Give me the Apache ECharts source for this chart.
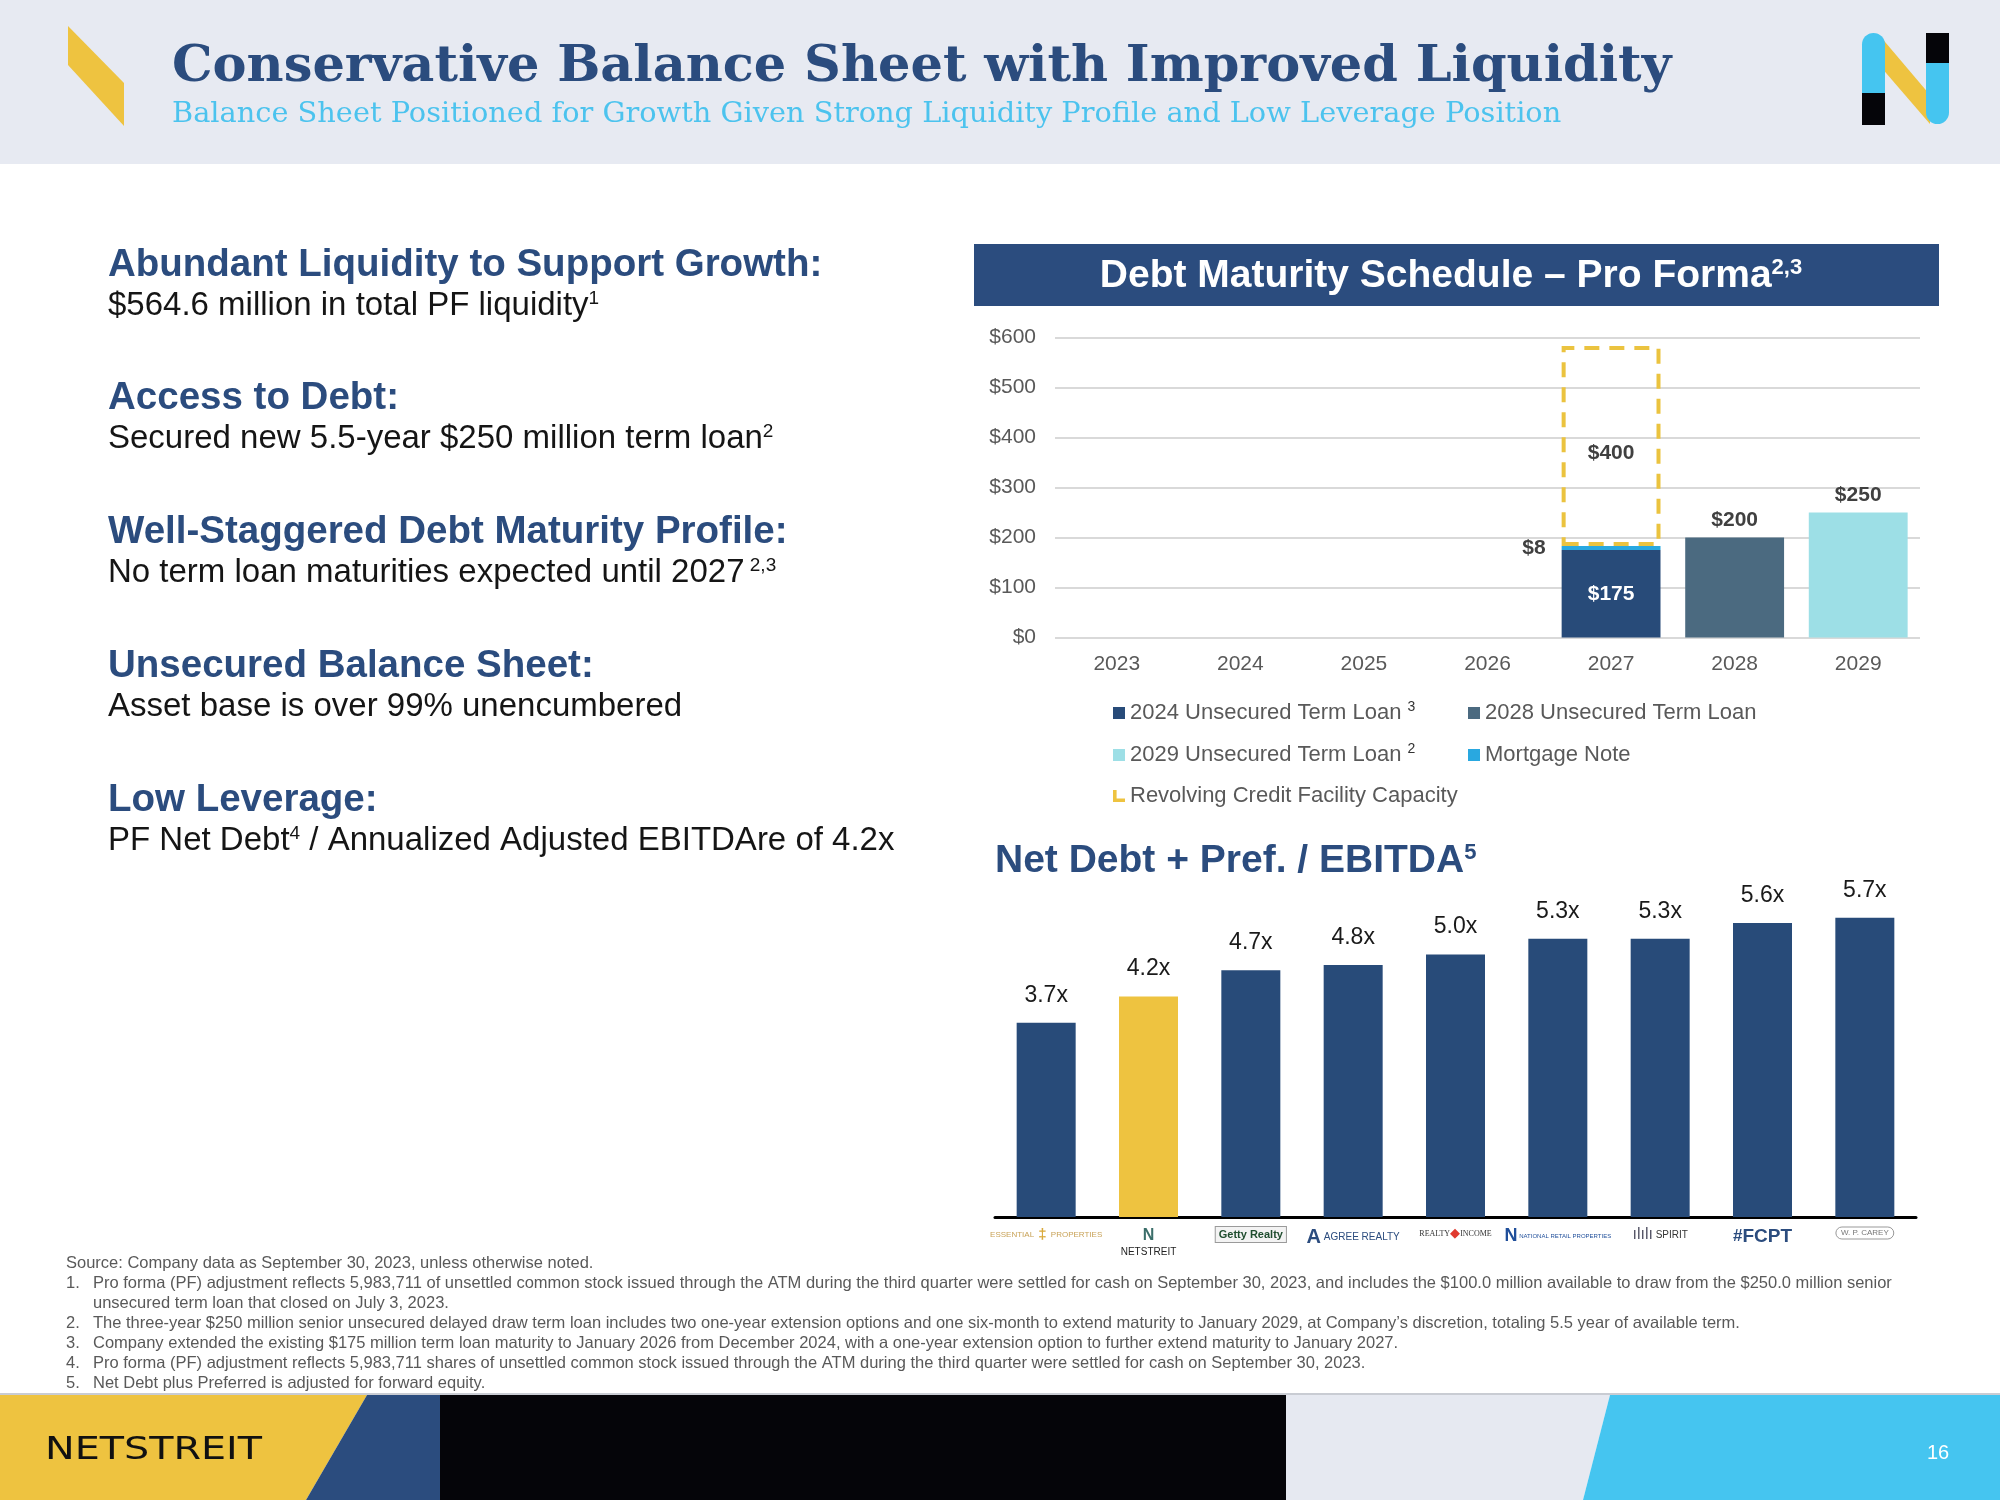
<!DOCTYPE html>
<html>
<head>
<meta charset="utf-8">
<script src="https://cdn.jsdelivr.net/npm/echarts@6/dist/echarts.min.js"></script>
<style>
html,body{margin:0;padding:0;background:#fff;}
#c{width:2000px;height:1500px;}
</style>
</head>
<body>
<div id="c"></div>
<script>
// ---------- DATA ----------
const years = ['2023', '2024', '2025', '2026', '2027', '2028', '2029'];
const loan2024 = [null, null, null, null, 175, null, null];
const mortgageNote = [null, null, null, null, 8, null, null];
const revolverCapacity = [null, null, null, null, 400, null, null];
const loan2028 = [null, null, null, null, null, 200, null];
const loan2029 = [null, null, null, null, null, null, 250];
const debtTicks = [0, 100, 200, 300, 400, 500, 600];

const peers = ['Essential Properties', 'NETSTREIT', 'Getty Realty', 'Agree Realty', 'Realty Income',
  'National Retail Properties', 'Spirit Realty', 'FCPT', 'W. P. Carey'];
const leverage = [3.7, 4.2, 4.7, 4.8, 5.0, 5.3, 5.3, 5.6, 5.7];

const footnotes = [
  ['', 'Source: Company data as September 30, 2023, unless otherwise noted.'],
  ['1.', 'Pro forma (PF) adjustment reflects 5,983,711 of unsettled common stock issued through the ATM during the third quarter were settled for cash on September 30, 2023, and includes the $100.0 million available to draw from the $250.0 million senior'],
  ['', 'unsecured term loan that closed on July 3, 2023.'],
  ['2.', 'The three-year $250 million senior unsecured delayed draw term loan includes two one-year extension options and one six-month to extend maturity to January 2029, at Company\u2019s discretion, totaling 5.5 year of available term.'],
  ['3.', 'Company extended the existing $175 million term loan maturity to January 2026 from December 2024, with a one-year extension option to further extend maturity to January 2027.'],
  ['4.', 'Pro forma (PF) adjustment reflects 5,983,711 shares of unsettled common stock issued through the ATM during the third quarter were settled for cash on September 30, 2023.'],
  ['5.', 'Net Debt plus Preferred is adjusted for forward equity.']
];

const highlights = [
  ['Abundant Liquidity to Support Growth:', '$564.6 million in total PF liquidity{sup|1}'],
  ['Access to Debt:', 'Secured new 5.5-year $250 million term loan{sup|2}'],
  ['Well-Staggered Debt Maturity Profile:', 'No term loan maturities expected until 2027{sup| 2,3}'],
  ['Unsecured Balance Sheet:', 'Asset base is over 99% unencumbered'],
  ['Low Leverage:', 'PF Net Debt{sup|4} / Annualized Adjusted EBITDAre of 4.2x']
];

// ---------- STYLE ----------
const NAVY = '#284B79';
const YELLOW = '#EEC340';
const SANS = '"Liberation Sans", Arial, sans-serif';

const chart = echarts.init(document.getElementById('c'));

const graphic = [];
// header band
graphic.push({type: 'rect', shape: {x: 0, y: 0, width: 2000, height: 164}, style: {fill: '#E7EAF2'}});
graphic.push({type: 'polygon', shape: {points: [[68, 26], [124, 83], [124, 126], [68, 65]]}, style: {fill: YELLOW}});
// N logo
graphic.push({type: 'polygon', shape: {points: [[1880, 36], [1930, 95], [1930, 124], [1880, 66]]}, style: {fill: YELLOW}});
graphic.push({type: 'rect', shape: {x: 1862, y: 33, width: 23, height: 60, r: [11.5, 11.5, 0, 0]}, style: {fill: '#45C5F0'}});
graphic.push({type: 'rect', shape: {x: 1862, y: 93, width: 23, height: 32}, style: {fill: '#050509'}});
graphic.push({type: 'rect', shape: {x: 1926, y: 33, width: 23, height: 30}, style: {fill: '#050509'}});
graphic.push({type: 'rect', shape: {x: 1926, y: 63, width: 23, height: 61, r: [0, 0, 11.5, 11.5]}, style: {fill: '#45C5F0'}});
// titles
graphic.push({type: 'text', x: 172, y: 68, style: {text: 'Conservative Balance Sheet with Improved Liquidity',
  font: 'bold 51px "DejaVu Serif", serif', fill: '#2B4C7E', verticalAlign: 'middle'}});
graphic.push({type: 'text', x: 172, y: 115, style: {text: 'Balance Sheet Positioned for Growth Given Strong Liquidity Profile and Low Leverage Position',
  font: '28.8px "DejaVu Serif", serif', fill: '#4CC3EE', verticalAlign: 'middle'}});

// left highlights
const headY = [265, 398, 532, 666, 800];
highlights.forEach((h, i) => {
  graphic.push({type: 'text', x: 108, y: headY[i], style: {text: h[0], font: 'bold 38.5px ' + SANS, fill: '#2B4C7E', verticalAlign: 'middle'}});
  graphic.push({type: 'text', x: 108, y: headY[i] + 41, style: {text: h[1], font: '33px ' + SANS, fill: '#151515', verticalAlign: 'middle',
    rich: {sup: {font: '19px ' + SANS, verticalAlign: 'top', fill: '#151515'}}}});
});

// chart 1 title bar
graphic.push({type: 'rect', shape: {x: 974, y: 244, width: 965, height: 62}, style: {fill: '#2B4C7E'}});
graphic.push({type: 'text', x: 1451, y: 276, style: {text: 'Debt Maturity Schedule \u2013 Pro Forma{sup|2,3}',
  font: 'bold 39px ' + SANS, fill: '#fff', align: 'center', verticalAlign: 'middle',
  rich: {sup: {font: 'bold 22px ' + SANS, verticalAlign: 'top', fill: '#fff'}}}});
// chart 2 title
graphic.push({type: 'text', x: 995, y: 861, style: {text: 'Net Debt + Pref. / EBITDA{sup|5}',
  font: 'bold 39px ' + SANS, fill: '#2B4C7E', verticalAlign: 'middle',
  rich: {sup: {font: 'bold 22px ' + SANS, verticalAlign: 'top', fill: '#2B4C7E'}}}});

// footnotes
footnotes.forEach((f, i) => {
  const y = 1263 + i * 20;
  if (f[0]) graphic.push({type: 'text', x: 66, y: y, style: {text: f[0], font: '16.5px ' + SANS, fill: '#595959', verticalAlign: 'middle'}});
  graphic.push({type: 'text', x: f[0] || i === 2 ? 93 : 66, y: y, style: {text: f[1], font: '16.5px ' + SANS, fill: '#595959', verticalAlign: 'middle'}});
});

// footer
graphic.push({type: 'rect', shape: {x: 0, y: 1393, width: 2000, height: 2}, style: {fill: '#C9CCD3'}});
graphic.push({type: 'polygon', shape: {points: [[0, 1395], [367, 1395], [306, 1500], [0, 1500]]}, style: {fill: YELLOW}});
graphic.push({type: 'polygon', shape: {points: [[367, 1395], [440, 1395], [440, 1500], [306, 1500]]}, style: {fill: '#2B4C7E'}});
graphic.push({type: 'rect', shape: {x: 440, y: 1395, width: 846, height: 105}, style: {fill: '#050509'}});
graphic.push({type: 'polygon', shape: {points: [[1286, 1395], [1610, 1395], [1583, 1500], [1286, 1500]]}, style: {fill: '#E6E9F1'}});
graphic.push({type: 'polygon', shape: {points: [[1610, 1395], [2000, 1395], [2000, 1500], [1583, 1500]]}, style: {fill: '#45C5F0'}});
graphic.push({type: 'text', x: 45, y: 1451, scaleX: 1.24, style: {text: 'NETSTREIT', font: '32px "DejaVu Sans", sans-serif', fill: '#111', verticalAlign: 'middle'}});
graphic.push({type: 'text', x: 1938, y: 1453, style: {text: '16', font: '20px ' + SANS, fill: '#fff', align: 'center', verticalAlign: 'middle'}});

// peer logo text styles
const logoText = {
  'Essential Properties': '{ess|ESSENTIAL}{essi| \u2021 }{ess|PROPERTIES}',
  'NETSTREIT': '{nl|N}\n{nt|NETSTREIT}',
  'Getty Realty': '{getty|Getty Realty}',
  'Agree Realty': '{ar|A}{ag| AGREE REALTY}',
  'Realty Income': '{ri|REALTY}{rd|\u25C6}{ri|INCOME}',
  'National Retail Properties': '{nn|N}{nr| NATIONAL RETAIL PROPERTIES}',
  'Spirit Realty': '{spi|\u0131l\u0131l\u0131}{sp| SPIRIT}',
  'FCPT': '{fcs|#}{fc|FCPT}',
  'W. P. Carey': '{wp|W. P. CAREY}'
};

const legendBase = {
  itemWidth: 12, itemHeight: 12, padding: 0, itemGap: 10,
  textStyle: {fontSize: 22, color: '#595959', fontFamily: 'Liberation Sans', lineHeight: 26,
    rich: {sup: {fontSize: 14, color: '#333', verticalAlign: 'top', lineHeight: 26}}},
  selectedMode: false
};
function legendAt(name, left, top, extra) {
  return Object.assign({}, legendBase, {left: left, top: top, data: [Object.assign({name: name, icon: 'rect'}, extra || {})],
    formatter: function (n) {
      if (n === '2024 Unsecured Term Loan') return n + ' {sup|3}';
      if (n === '2029 Unsecured Term Loan') return n + ' {sup|2}';
      return n;
    }});
}

const debtLabel = {show: true, fontWeight: 'bold', fontSize: 21, color: '#404040', fontFamily: 'Liberation Sans',
  formatter: p => '$' + p.value};

const option = {
  animation: false,
  backgroundColor: '#fff',
  graphic: graphic,
  legend: [
    legendAt('2024 Unsecured Term Loan', 1113, 700),
    legendAt('2028 Unsecured Term Loan', 1468, 700),
    legendAt('2029 Unsecured Term Loan', 1113, 742),
    legendAt('Mortgage Note', 1468, 742),
    legendAt('Revolving Credit Facility Capacity', 1113, 783,
      {icon: 'path://M0,0 L3,0 L3,7 L10,7 L10,10 L0,10 Z', itemStyle: {color: YELLOW, borderWidth: 0}})
  ],
  grid: [
    {left: 1055, right: 80, top: 337.5, bottom: 862.5},
    {left: 995, right: 84, top: 902, bottom: 283}
  ],
  xAxis: [
    {gridIndex: 0, type: 'category', data: years, axisLine: {show: false}, axisTick: {show: false},
      axisLabel: {color: '#595959', fontSize: 21, margin: 16, fontFamily: 'Liberation Sans'}},
    {gridIndex: 1, type: 'category', data: peers, axisLine: {lineStyle: {color: '#000', width: 3}}, axisTick: {show: false},
      axisLabel: {interval: 0, margin: 10, formatter: v => logoText[v] || v,
        rich: {
          ess: {color: '#C8A257', fontSize: 8, fontFamily: 'Liberation Sans'},
          essi: {color: '#D9A93B', fontSize: 15, fontWeight: 'bold'},
          nl: {color: '#3B6E6A', fontSize: 16, fontWeight: 'bold', lineHeight: 18},
          nt: {color: '#222', fontSize: 10, lineHeight: 14},
          getty: {color: '#1F4D2E', fontSize: 11, fontWeight: 'bold', borderColor: '#9a9a9a', borderWidth: 1, padding: [2, 3], backgroundColor: '#f3f3f3'},
          ar: {color: '#2B4C7E', fontSize: 20, fontWeight: 'bold'},
          ag: {color: '#2B4C7E', fontSize: 10},
          ri: {color: '#333', fontSize: 8, fontFamily: 'Liberation Serif'},
          rd: {color: '#E03A2F', fontSize: 13},
          nn: {color: '#1F4E9A', fontSize: 18, fontWeight: 'bold'},
          nr: {color: '#1F4E9A', fontSize: 6},
          spi: {color: '#556', fontSize: 16},
          sp: {color: '#333', fontSize: 10},
          fcs: {color: '#2B4C7E', fontSize: 17, fontWeight: 'bold'},
          fc: {color: '#2B4C7E', fontSize: 19, fontWeight: 'bold'},
          wp: {color: '#777', fontSize: 8, borderColor: '#999', borderWidth: 1, borderRadius: 8, padding: [2, 5]}
        }}}
  ],
  yAxis: [
    {gridIndex: 0, type: 'value', min: 0, max: 600, interval: 100,
      axisLabel: {formatter: '${value}', color: '#595959', fontSize: 21, margin: 19, fontFamily: 'Liberation Sans'},
      axisLine: {show: false}, axisTick: {show: false},
      splitLine: {lineStyle: {color: '#D9D9D9', width: 2}}},
    {gridIndex: 1, type: 'value', min: 0, max: 6, show: false, splitLine: {show: false}}
  ],
  series: [
    {name: '2024 Unsecured Term Loan', type: 'bar', stack: 'debt', xAxisIndex: 0, yAxisIndex: 0, data: loan2024,
      barWidth: '80%', itemStyle: {color: NAVY},
      label: Object.assign({}, debtLabel, {position: 'inside', color: '#fff'})},
    {name: 'Mortgage Note', type: 'bar', stack: 'debt', xAxisIndex: 0, yAxisIndex: 0, data: mortgageNote,
      barWidth: '80%', itemStyle: {color: '#29A8E0'},
      label: Object.assign({}, debtLabel, {position: 'left', distance: 16})},
    {name: 'Revolving Credit Facility Capacity', type: 'bar', stack: 'debt', xAxisIndex: 0, yAxisIndex: 0, data: revolverCapacity,
      barWidth: '80%', itemStyle: {color: 'rgba(255,255,255,0)', borderColor: '#EBC33F', borderWidth: 4, borderType: [15, 10]},
      label: Object.assign({}, debtLabel, {position: 'inside', offset: [0, 7]})},
    {name: '2028 Unsecured Term Loan', type: 'bar', stack: 'debt', xAxisIndex: 0, yAxisIndex: 0, data: loan2028,
      barWidth: '80%', itemStyle: {color: '#4B6A80'},
      label: Object.assign({}, debtLabel, {position: 'top', distance: 7})},
    {name: '2029 Unsecured Term Loan', type: 'bar', stack: 'debt', xAxisIndex: 0, yAxisIndex: 0, data: loan2029,
      barWidth: '80%', itemStyle: {color: '#9DDFE6'},
      label: Object.assign({}, debtLabel, {position: 'top', distance: 7})},
    {name: 'Net Debt + Pref. / EBITDA', type: 'bar', xAxisIndex: 1, yAxisIndex: 1, data: leverage,
      barWidth: 59,
      itemStyle: {color: p => p.name === 'NETSTREIT' ? YELLOW : NAVY},
      label: {show: true, position: 'top', distance: 16, fontSize: 23, color: '#1a1a1a', fontFamily: 'Liberation Sans',
        formatter: p => p.value.toFixed(1) + 'x'}}
  ]
};
chart.setOption(option);
</script>
</body>
</html>
